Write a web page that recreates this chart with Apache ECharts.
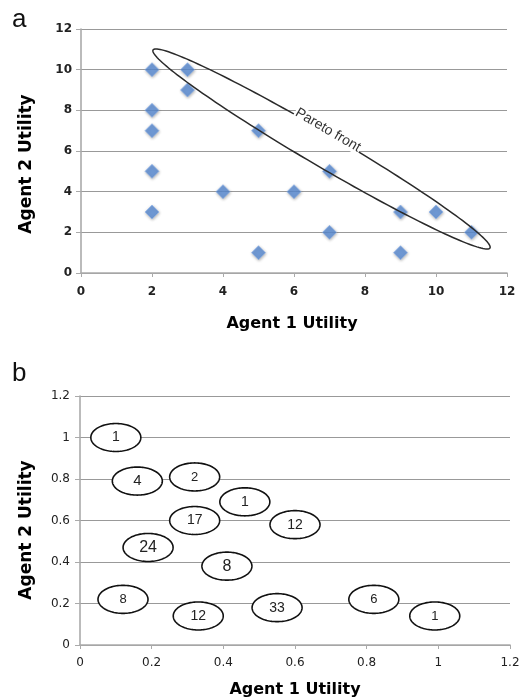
<!DOCTYPE html>
<html>
<head>
<meta charset="utf-8">
<script src="https://cdn.jsdelivr.net/npm/echarts@6/dist/echarts.min.js"></script>
<style>
  html, body { margin: 0; padding: 0; background: #fff; }
  #chart { width: 531px; height: 700px; }
</style>
</head>
<body>
<div id="chart"></div>
<script>
// ---- Panel a: utility of each outcome for the two agents ----
const outcomeAgent1 = [2, 3, 3, 2, 2, 5, 2, 7, 4, 6, 2, 9, 10, 7, 11, 5, 9];
const outcomeAgent2 = [10, 10, 9, 8, 7, 7, 5, 5, 4, 4, 3, 3, 3, 2, 2, 1, 1];
// the two tips of the oval that outlines the Pareto front (data units)
const paretoTips = [[2.03, 10.97], [11.52, 1.23]];
const paretoLabel = 'Pareto front';
const ticksA = [0, 2, 4, 6, 8, 10, 12];

// ---- Panel b: normalised utilities, with the number of outcomes in each cluster ----
const clusterAgent1 = [0.10, 0.16, 0.32, 0.46, 0.32, 0.60, 0.19, 0.41, 0.12, 0.33, 0.55, 0.82, 0.99];
const clusterAgent2 = [1.00, 0.79, 0.81, 0.69, 0.60, 0.58, 0.47, 0.38, 0.22, 0.14, 0.18, 0.22, 0.14];
const clusterCounts = [1, 4, 2, 1, 17, 12, 24, 8, 8, 12, 33, 6, 1];
const ticksB = ['0', '0.2', '0.4', '0.6', '0.8', '1', '1.2'];

// text size of each count inside its oval
const countFontSize = [14, 15, 13, 14, 14, 14, 16, 16, 13, 14, 14, 13, 13];

const titleFont = '"DejaVu Sans", sans-serif';
const countFont = '"Liberation Sans", Arial, sans-serif';

function ellipsePoints(cx, cy, a, b, theta, n) {
  const pts = [];
  const ct = Math.cos(theta), st = Math.sin(theta);
  for (let i = 0; i < n; i++) {
    const t = (i / n) * Math.PI * 2;
    const ex = a * Math.cos(t), ey = b * Math.sin(t);
    pts.push([cx + ex * ct - ey * st, cy + ex * st + ey * ct]);
  }
  return pts;
}

const axisLineStyle = { show: true, lineStyle: { color: '#aaa', width: 1.6 } };
const gridLineStyle = { show: true, lineStyle: { color: '#999', width: 1 } };

const chart = echarts.init(document.getElementById('chart'), null, { renderer: 'canvas' });

const option = {
  backgroundColor: '#fff',
  animation: false,
  grid: [
    { left: 81, right: 24, top: 29, bottom: 427, outerBoundsMode: 'none' },
    { left: 80, right: 21, top: 396, bottom: 55, outerBoundsMode: 'none' }
  ],
  xAxis: [
    {
      gridIndex: 0, type: 'value', min: 0, max: 12, interval: 2,
      axisLine: axisLineStyle,
      axisTick: { show: true, length: 4, lineStyle: { color: '#aaa' } },
      splitLine: { show: false },
      axisLabel: {
        margin: 13, color: '#222', fontSize: 12, fontWeight: 'bold', fontFamily: titleFont,
        formatter: v => String(ticksA[Math.round(v / 2)])
      }
    },
    {
      gridIndex: 1, type: 'value', min: 0, max: 1.2, interval: 0.2,
      axisLine: axisLineStyle,
      axisTick: { show: true, length: 4, lineStyle: { color: '#aaa' } },
      splitLine: { show: false },
      axisLabel: {
        margin: 12, color: '#222', fontSize: 12, fontFamily: titleFont,
        formatter: v => ticksB[Math.round(v / 0.2)]
      }
    }
  ],
  yAxis: [
    {
      gridIndex: 0, type: 'value', min: 0, max: 12, interval: 2,
      axisLine: axisLineStyle,
      axisTick: { show: true, length: 5, lineStyle: { color: '#aaa' } },
      splitLine: gridLineStyle,
      axisLabel: {
        margin: 9, color: '#222', fontSize: 12, fontWeight: 'bold', fontFamily: titleFont,
        formatter: v => String(ticksA[Math.round(v / 2)])
      }
    },
    {
      gridIndex: 1, type: 'value', min: 0, max: 1.2, interval: 0.2,
      axisLine: axisLineStyle,
      axisTick: { show: true, length: 5, lineStyle: { color: '#aaa' } },
      splitLine: gridLineStyle,
      axisLabel: {
        margin: 10, color: '#222', fontSize: 12, fontFamily: titleFont,
        formatter: v => ticksB[Math.round(v / 0.2)]
      }
    }
  ],
  series: [
    {
      type: 'scatter',
      xAxisIndex: 0, yAxisIndex: 0,
      symbol: 'diamond',
      symbolSize: 14,
      z: 3,
      itemStyle: {
        color: '#5b8fd8',
        borderColor: '#8fb4ea',
        borderWidth: 0.8,
        shadowBlur: 3,
        shadowColor: 'rgba(0,0,0,0.35)',
        shadowOffsetX: 0.5,
        shadowOffsetY: 1
      },
      data: outcomeAgent1.map((x, i) => [x, outcomeAgent2[i]])
    },
    {
      // oval around the Pareto-optimal outcomes, with its label on the upper edge
      type: 'custom',
      xAxisIndex: 0, yAxisIndex: 0,
      z: 5,
      silent: true,
      encode: { x: [0, 2], y: [1, 3] },
      data: [[paretoTips[0][0], paretoTips[0][1], paretoTips[1][0], paretoTips[1][1]]],
      renderItem: function (params, api) {
        const p1 = api.coord([api.value(0), api.value(1)]);
        const p2 = api.coord([api.value(2), api.value(3)]);
        const cx = (p1[0] + p2[0]) / 2, cy = (p1[1] + p2[1]) / 2;
        const dx = p2[0] - p1[0], dy = p2[1] - p1[1];
        const theta = Math.atan2(dy, dx);
        const a = Math.sqrt(dx * dx + dy * dy) / 2;
        const b = 16.5;
        const nx = Math.sin(theta), ny = -Math.cos(theta);
        const tx = cx + nx * (b + 3) - Math.cos(theta) * 4;
        const ty = cy + ny * (b + 3) - Math.sin(theta) * 4;
        return {
          type: 'group',
          children: [
            {
              type: 'polygon',
              shape: { points: ellipsePoints(cx, cy, a, b, theta, 180) },
              style: { fill: 'none', stroke: '#2a2a2a', lineWidth: 1.5 }
            },
            {
              type: 'text',
              x: tx, y: ty,
              rotation: -theta,
              z2: 10,
              style: {
                text: paretoLabel,
                align: 'center', verticalAlign: 'middle',
                fontSize: 14, fontFamily: countFont,
                fill: '#333',
                backgroundColor: '#fff',
                padding: [0, 1]
              }
            }
          ]
        };
      }
    },
    {
      // ovals with the outcome counts
      type: 'custom',
      xAxisIndex: 1, yAxisIndex: 1,
      z: 5,
      silent: true,
      encode: { x: 0, y: 1 },
      data: clusterAgent1.map((x, i) => [x, clusterAgent2[i], clusterCounts[i]]),
      renderItem: function (params, api) {
        const c = api.coord([api.value(0), api.value(1)]);
        return {
          type: 'group',
          children: [
            {
              type: 'polygon',
              shape: { points: ellipsePoints(c[0], c[1], 25, 14, 0, 120) },
              style: { fill: '#fff', stroke: '#111', lineWidth: 1.6 }
            },
            {
              type: 'text',
              z2: 10,
              style: {
                text: String(api.value(2)),
                x: c[0], y: c[1],
                align: 'center', verticalAlign: 'middle',
                fontSize: countFontSize[params.dataIndex],
                fontFamily: countFont,
                fill: '#222'
              }
            }
          ]
        };
      }
    }
  ],
  graphic: [
    { type: 'text', x: 12, y: 20, style: { text: 'a', fontSize: 26, fontFamily: countFont, fill: '#111', verticalAlign: 'middle' } },
    { type: 'text', x: 12, y: 374, style: { text: 'b', fontSize: 26, fontFamily: countFont, fill: '#111', verticalAlign: 'middle' } },
    { type: 'text', x: 27, y: 164, rotation: Math.PI / 2, style: { text: 'Agent 2 Utility', fontSize: 17, fontWeight: 'bold', fontFamily: titleFont, fill: '#000', align: 'center', verticalAlign: 'middle' } },
    { type: 'text', x: 292, y: 324, style: { text: 'Agent 1 Utility', fontSize: 16, fontWeight: 'bold', fontFamily: titleFont, fill: '#000', align: 'center', verticalAlign: 'middle' } },
    { type: 'text', x: 27, y: 530, rotation: Math.PI / 2, style: { text: 'Agent 2 Utility', fontSize: 17, fontWeight: 'bold', fontFamily: titleFont, fill: '#000', align: 'center', verticalAlign: 'middle' } },
    { type: 'text', x: 295, y: 690, style: { text: 'Agent 1 Utility', fontSize: 16, fontWeight: 'bold', fontFamily: titleFont, fill: '#000', align: 'center', verticalAlign: 'middle' } }
  ]
};

chart.setOption(option);
</script>
</body>
</html>
